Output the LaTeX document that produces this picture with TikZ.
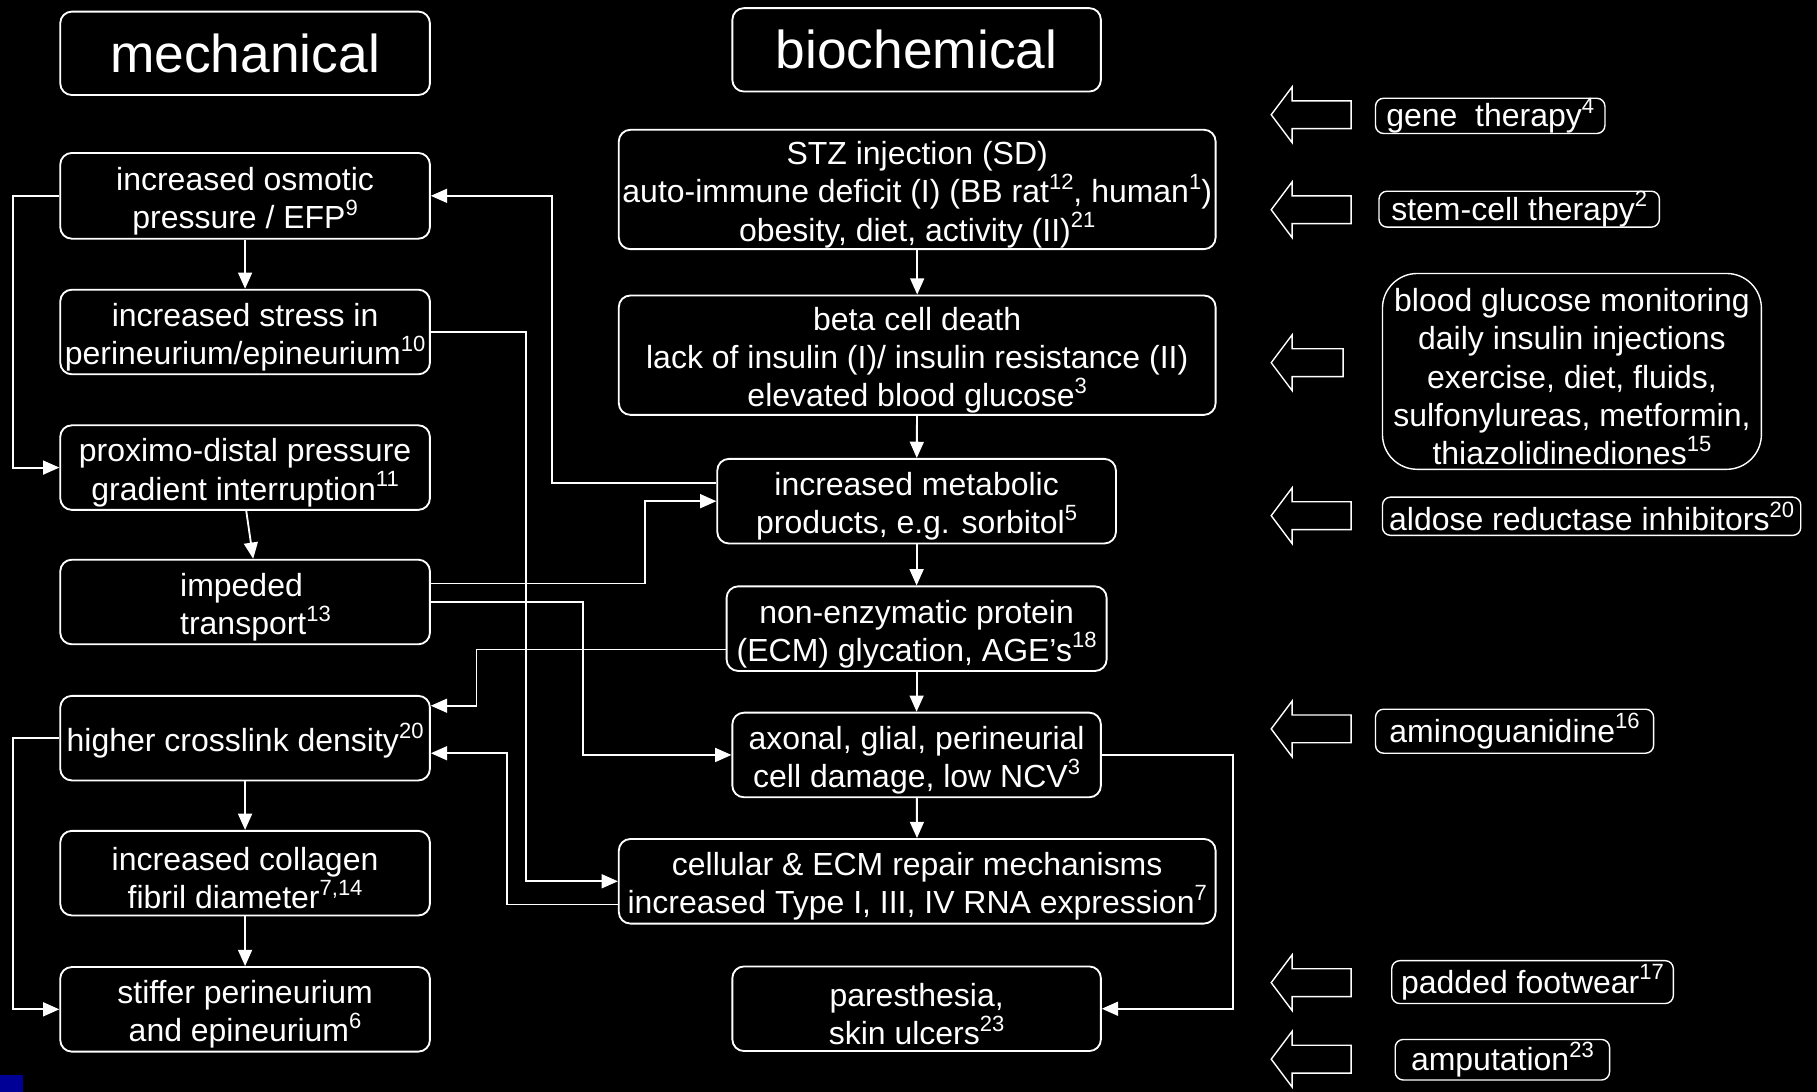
\documentclass[tikz,border=0pt]{standalone}
\usepackage{fontspec}
\setmainfont{Liberation Sans}
\usetikzlibrary{arrows.meta}
\newcommand{\refno}[1]{\raisebox{0.42em}{\fontsize{9.5}{10}\selectfont #1}}
\newcommand{\topstrut}{\rule{0pt}{14.5pt}}

\begin{document}
\begin{tikzpicture}[x=0.5pt, y=-0.5pt,
  box/.style={draw=white, line width=0.8pt, rounded corners=5pt, text=white, align=center, inner sep=0pt, font=\fontsize{13.8}{16.5}\selectfont},
  headbox/.style={box, font=\fontsize{23}{27}\selectfont},
  cure/.style={box, rounded corners=3.5pt, line width=0.6pt},
  link/.style={draw=white, line width=0.8pt, -{Triangle[length=7pt, width=6pt]}},
  hollow/.style={draw=white, line width=0.6pt, line join=miter}]
\pgfmathsetlengthmacro\leftw{159.5pt}
\pgfmathsetlengthmacro\boxh{36.5pt}
\definecolor{slideblue}{RGB}{0,0,150}
\fill[black] (0,0) rectangle (1568,942);
\fill[slideblue] (0,928) rectangle (20,942);
\node[headbox, minimum width=\leftw, minimum height=36pt] (mech) at (211.5,46) {mechanical};
\node[headbox, minimum width=159pt, minimum height=36pt] (biochem) at (791,43) {biochemical};
\node[box, minimum width=\leftw, minimum height=37pt] (osmotic) at (211.5,169) {\topstrut increased osmotic\\pressure / EFP\refno{9}};
\node[box, minimum width=\leftw, minimum height=\boxh] (stress) at (211.5,286.5) {\topstrut increased stress in\\perineurium/epineurium\refno{10}};
\node[box, minimum width=\leftw, minimum height=\boxh] (proximo) at (211.5,403.5) {\topstrut proximo-distal pressure\\gradient interruption\refno{11}};
\node[box, align=left, minimum width=\leftw, minimum height=\boxh] (impeded) at (211.5,519.5) {\topstrut\hspace*{9pt}impeded\\\hspace*{9pt}transport\refno{13}};
\node[box, minimum width=\leftw, minimum height=\boxh] (crosslink) at (211.5,637) {\topstrut higher crosslink density\refno{20}};
\node[box, minimum width=\leftw, minimum height=\boxh] (collagen) at (211.5,753.5) {\topstrut increased collagen\\fibril diameter\refno{7,14}};
\node[box, minimum width=\leftw, minimum height=\boxh] (stiffer) at (211.5,871) {\topstrut stiffer perineurium\\and epineurium\refno{6}};
\node[box, minimum width=257.5pt, minimum height=51.5pt] (stz) at (791.5,163.5) {\topstrut STZ injection (SD)\\auto-immune deficit (I) (BB rat\refno{12}, human\refno{1})\\obesity, diet, activity (II)\refno{21}};
\node[box, minimum width=257.5pt, minimum height=51.5pt] (beta) at (791.5,306.5) {\topstrut beta cell death\\lack of insulin (I)/ insulin resistance (II)\\elevated blood glucose\refno{3}};
\node[box, minimum width=172pt, minimum height=\boxh] (metab) at (791,432.5) {\topstrut increased metabolic\\products, e.g. sorbitol\refno{5}};
\node[box, minimum width=164pt, minimum height=\boxh] (glyc) at (791,542.5) {\topstrut non-enzymatic protein\\(ECM) glycation, AGE’s\refno{18}};
\node[box, minimum width=159pt, minimum height=\boxh] (axonal) at (791,651.5) {\topstrut axonal, glial, perineurial\\cell damage, low NCV\refno{3}};
\node[box, minimum width=257.5pt, minimum height=\boxh] (repair) at (791.5,760.5) {\topstrut cellular \& ECM repair mechanisms\\increased Type I, III, IV RNA expression\refno{7}};
\node[box, minimum width=159pt, minimum height=\boxh] (pares) at (791,870.5) {\topstrut paresthesia,\\skin ulcers\refno{23}};
\node[cure, minimum width=99pt, minimum height=15pt] (gene) at (1286,100) {gene\ \ therapy\refno{4}};
\node[cure, minimum width=121pt, minimum height=15.5pt] (stem) at (1311,180.5) {stem-cell therapy\refno{2}};
\node[cure, rounded corners=15pt, minimum width=163.5pt, minimum height=84.5pt] (glucose) at (1356.5,320.5) {\topstrut blood glucose monitoring\\daily insulin injections\\exercise, diet, fluids,\\sulfonylureas, metformin,\\thiazolidinediones\refno{15}};
\node[cure, minimum width=180.5pt, minimum height=16.5pt] (aldose) at (1373.5,445.5) {aldose reductase inhibitors\refno{20}};
\node[cure, minimum width=120pt, minimum height=19pt] (amino) at (1307,631) {aminoguanidine\refno{16}};
\node[cure, minimum width=121.5pt, minimum height=18.5pt] (footwear) at (1322.5,847.5) {padded footwear\refno{17}};
\node[cure, minimum width=92.5pt, minimum height=17.5pt] (amput) at (1296.5,914.5) {amputation\refno{23}};
\foreach \ay/\aend in {99/1166, 181/1166, 313/1159, 445/1166, 629/1166, 848/1166, 914/1166}
  \draw[hollow] (\aend,\ay-12) -- (1115,\ay-12) -- (1115,\ay-24) -- (1097,\ay) -- (1115,\ay+24) -- (1115,\ay+12) -- (\aend,\ay+12) -- cycle;
\draw[link] (osmotic) -- (stress);
\draw[link] (crosslink) -- (collagen);
\draw[link] (collagen) -- (stiffer);
\draw[link] ([xshift=0.5pt]proximo.south) -- ([xshift=3.5pt]impeded.north);
\draw[link] (stz) -- (beta);
\draw[link] (beta) -- (metab);
\draw[link] (metab) -- (glyc);
\draw[link] (glyc) -- (axonal);
\draw[link] (axonal) -- (repair);
\draw[link] (osmotic.west) -- ++(-40,0) |- (proximo.west);
\draw[link] (crosslink.west) -- ++(-40,0) |- (stiffer.west);
\draw[link] (stress.east) -- ++(82,0) |- (repair.west);
\draw[link] ([yshift=-10pt]repair.west) -- ++(-96,0) |- ([yshift=-6.5pt]crosslink.east);
\draw[link] ([yshift=8pt]metab.west) -- ++(-142,0) |- (osmotic.east);
\draw[link] ([yshift=8pt]impeded.east) -- ++(185,0) |- (metab.west);
\draw[link] (impeded.east) -- ++(131,0) |- (axonal.west);
\draw[link] ([yshift=-9pt]glyc.west) -- ++(-215,0) |- ([yshift=14pt]crosslink.east);
\draw[link] (axonal.east) -- ++(113,0) |- (pares.east);
\end{tikzpicture}
\end{document}
